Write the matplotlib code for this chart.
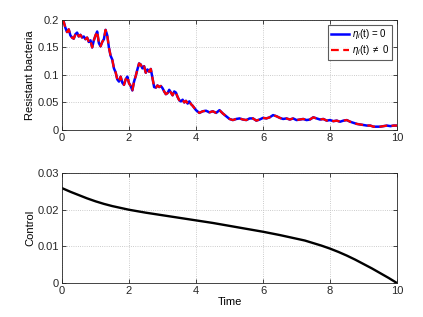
import matplotlib.pyplot as plt

plt.rcParams['font.family'] = ['Liberation Sans', 'DejaVu Sans']
plt.rcParams['mathtext.fontset'] = 'custom'
plt.rcParams['mathtext.it'] = 'Liberation Sans:italic'
plt.rcParams['mathtext.rm'] = 'Liberation Sans'

# Resistant bacteria
t_bact = [0.00, 0.05, 0.10, 0.15, 0.20, 0.25, 0.30, 0.35, 0.40, 0.45,
          0.50, 0.55, 0.60, 0.65, 0.70, 0.75, 0.80, 0.85, 0.90, 0.95,
          1.00, 1.05, 1.10, 1.15, 1.20, 1.25, 1.30, 1.35, 1.40, 1.45,
          1.50, 1.55, 1.60, 1.65, 1.70, 1.75, 1.80, 1.85, 1.90, 1.95,
          2.00, 2.05, 2.10, 2.15, 2.20, 2.25, 2.30, 2.35, 2.40, 2.45,
          2.50, 2.55, 2.60, 2.65, 2.70, 2.75, 2.80, 2.85, 2.90, 2.95,
          3.00, 3.05, 3.10, 3.15, 3.20, 3.25, 3.30, 3.35, 3.40, 3.45,
          3.50, 3.55, 3.60, 3.65, 3.70, 3.75, 3.80, 3.85, 3.90, 3.95,
          4.0, 4.1, 4.2, 4.3, 4.4, 4.5, 4.6, 4.7, 4.8, 4.9,
          5.0, 5.1, 5.2, 5.3, 5.4, 5.5, 5.6, 5.7, 5.8, 5.9,
          6.0, 6.1, 6.2, 6.3, 6.4, 6.5, 6.6, 6.7, 6.8, 6.9,
          7.0, 7.1, 7.2, 7.3, 7.4, 7.5, 7.6, 7.7, 7.8, 7.9,
          8.0, 8.1, 8.2, 8.3, 8.4, 8.5, 8.6, 8.7, 8.8, 8.9,
          9.0, 9.1, 9.2, 9.3, 9.4, 9.5, 9.6, 9.7, 9.8, 9.9, 10.0]
bact_eta0 = [0.200, 0.197, 0.186, 0.178, 0.183, 0.172, 0.168, 0.166, 0.174, 0.177,
             0.170, 0.173, 0.168, 0.170, 0.165, 0.168, 0.160, 0.163, 0.150, 0.163,
             0.172, 0.179, 0.158, 0.152, 0.160, 0.165, 0.182, 0.172, 0.150, 0.135,
             0.128, 0.112, 0.105, 0.092, 0.088, 0.097, 0.086, 0.082, 0.092, 0.097,
             0.085, 0.080, 0.072, 0.088, 0.098, 0.110, 0.121, 0.119, 0.112, 0.116,
             0.104, 0.110, 0.106, 0.111, 0.095, 0.078, 0.077, 0.081, 0.078, 0.080,
             0.076, 0.070, 0.065, 0.067, 0.073, 0.068, 0.063, 0.070, 0.068, 0.060,
             0.054, 0.052, 0.055, 0.050, 0.053, 0.048, 0.052, 0.047, 0.044, 0.040,
             0.036, 0.031, 0.034, 0.035, 0.032, 0.034, 0.031, 0.036, 0.030, 0.025,
             0.020, 0.018, 0.020, 0.021, 0.019, 0.018, 0.021, 0.021, 0.017, 0.019,
             0.022, 0.021, 0.023, 0.027, 0.025, 0.022, 0.020, 0.021, 0.019, 0.021,
             0.018, 0.019, 0.020, 0.018, 0.019, 0.023, 0.021, 0.019, 0.020, 0.017,
             0.018, 0.016, 0.017, 0.015, 0.017, 0.018, 0.015, 0.013, 0.011, 0.010,
             0.009, 0.008, 0.008, 0.006, 0.006, 0.006, 0.007, 0.008, 0.007, 0.008, 0.008]
bact_eta1 = list(bact_eta0)

# Control
t_ctrl = [0, 0.25, 0.5, 0.75, 1, 1.25, 1.5, 1.75, 2, 2.5, 3, 3.5, 4, 4.5,
          5, 5.5, 6, 6.5, 7, 7.25, 7.5, 7.75, 8, 8.25, 8.5, 8.75, 9, 9.25,
          9.5, 9.75, 10]
control = [0.0259, 0.0249, 0.0240, 0.0231, 0.0223, 0.0216, 0.0210, 0.0205,
           0.0200, 0.0192, 0.0185, 0.0178, 0.0171, 0.0164, 0.0156, 0.0148,
           0.0140, 0.0131, 0.0121, 0.0116, 0.0109, 0.0102, 0.0094, 0.0085,
           0.0075, 0.0064, 0.0052, 0.0040, 0.0027, 0.0014, 0.0]

fig = plt.figure(figsize=(4.23, 3.17), dpi=100)
ax1 = fig.add_axes([0.1466, 0.590, 0.792, 0.347])
ax2 = fig.add_axes([0.1466, 0.107, 0.792, 0.347])

ax1.plot(t_bact, bact_eta0, color='#0000ff', lw=1.8, label=r'$\eta_i$(t) = 0')
ax1.plot(t_bact, bact_eta1, color='#ff0000', lw=1.6, ls=(0, (3.5, 2)),
         label=r'$\eta_i$(t) $\neq$ 0')
ax1.set_xlim(0, 10)
ax1.set_ylim(0, 0.2)
ax1.set_yticks([0, 0.05, 0.1, 0.15, 0.2])
ax1.set_yticklabels(['0', '0.05', '0.1', '0.15', '0.2'])
ax1.set_ylabel('Resistant bacteria', fontsize=8, labelpad=2)
leg = ax1.legend(loc='upper right', fontsize=7, frameon=True, fancybox=False,
                 edgecolor='#333333', handlelength=1.9, handletextpad=0.3,
                 borderpad=0.25, labelspacing=0.2, borderaxespad=0.5)
leg.get_frame().set_linewidth(0.8)

ax2.plot(t_ctrl, control, color='black', lw=1.7)
ax2.set_xlim(0, 10)
ax2.set_ylim(0, 0.03)
ax2.set_yticks([0, 0.01, 0.02, 0.03])
ax2.set_yticklabels(['0', '0.01', '0.02', '0.03'])
ax2.set_ylabel('Control', fontsize=8, labelpad=2)
ax2.set_xlabel('Time', fontsize=8, labelpad=1)

for ax in (ax1, ax2):
    ax.set_xticks([0, 2, 4, 6, 8, 10])
    ax.grid(True, linestyle=':', color='#bbbbbb', lw=0.6)
    ax.tick_params(direction='in', top=True, right=True, labelsize=8,
                   length=3, width=0.6, colors='#262626', pad=2)
    for s in ax.spines.values():
        s.set_linewidth(0.6)
        s.set_color('#262626')

fig.savefig('out.png', dpi=100)
